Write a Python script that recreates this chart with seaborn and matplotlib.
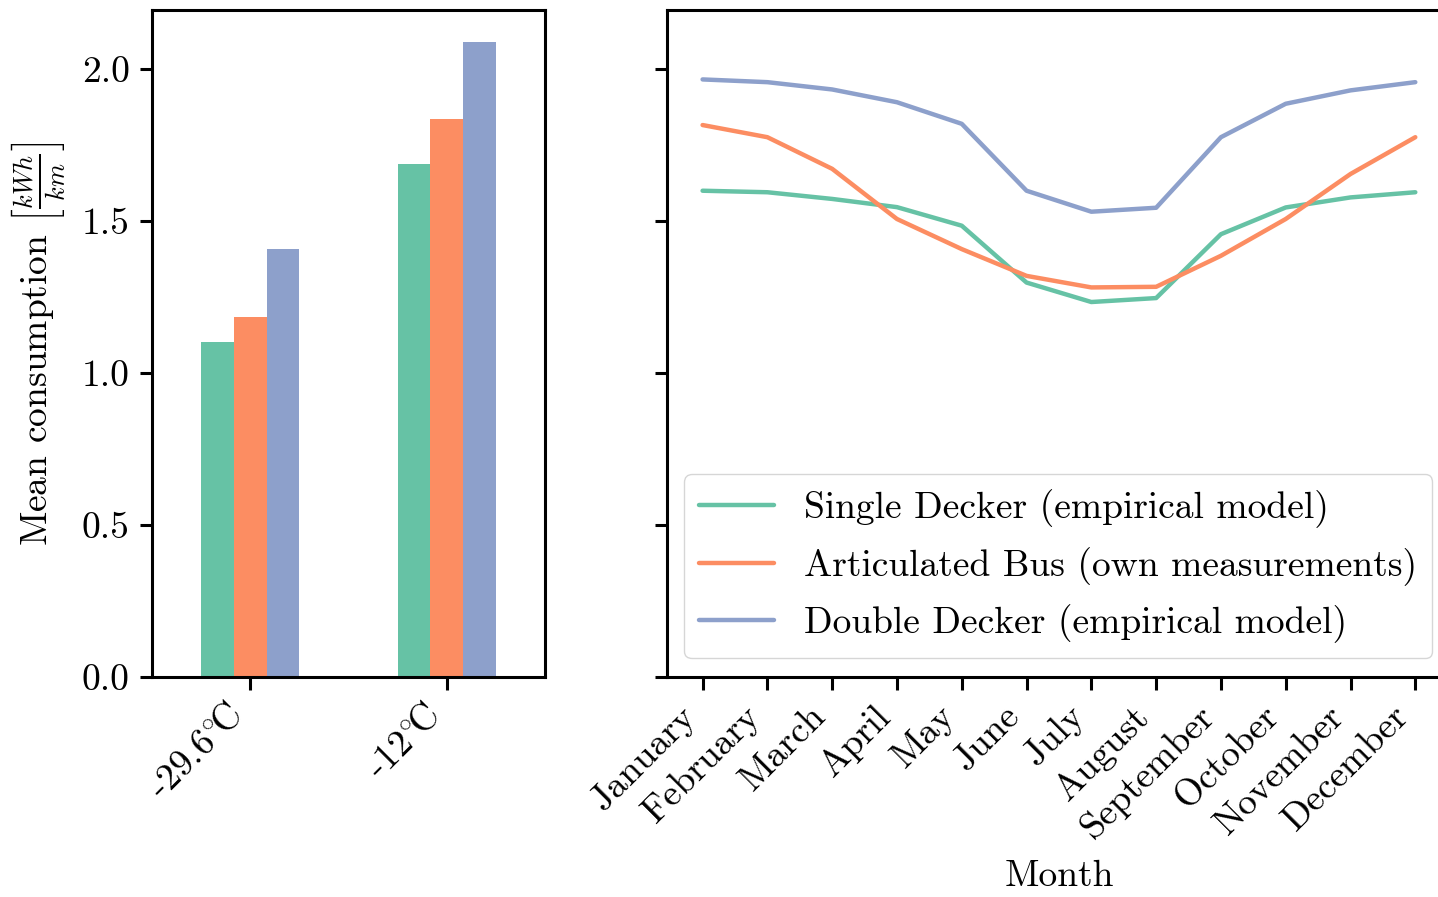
import numpy as np
import pandas as pd
import matplotlib
matplotlib.use("Agg")
import matplotlib.pyplot as plt
import seaborn as sns

# bus types (hue)
bus_types = ["Single Decker (empirical model)",
             "Articulated Bus (own measurements)",
             "Double Decker (empirical model)"]

# left panel: mean consumption at two temperatures
temps = [r"-29.6$^{\circ}\!$C", r"-12$^{\circ}\!$C"]
single_temp = [1.10, 1.687]
artic_temp = [1.183, 1.835]
double_temp = [1.407, 2.089]

# right panel: monthly mean consumption
months = ["January", "February", "March", "April", "May", "June", "July",
          "August", "September", "October", "November", "December"]
single_month = [1.599, 1.594, 1.572, 1.545, 1.484, 1.297, 1.233, 1.246, 1.456, 1.544, 1.577, 1.594]
artic_month = [1.815, 1.775, 1.671, 1.506, 1.407, 1.319, 1.281, 1.283, 1.385, 1.506, 1.654, 1.775]
double_month = [1.965, 1.956, 1.932, 1.890, 1.819, 1.599, 1.530, 1.543, 1.775, 1.885, 1.929, 1.956]

sns.set_theme(style="ticks")
plt.rcParams["font.family"] = ["cmr10", "DejaVu Serif"]
plt.rcParams["mathtext.fontset"] = "cm"
plt.rcParams["axes.formatter.use_mathtext"] = True
plt.rcParams.update({"font.size": 27, "axes.labelsize": 27, "xtick.labelsize": 27,
                     "ytick.labelsize": 27, "legend.fontsize": 27,
                     "axes.linewidth": 2.2, "xtick.major.width": 2.2, "ytick.major.width": 2.2,
                     "xtick.major.size": 9, "ytick.major.size": 9,
                     "xtick.major.pad": 7, "ytick.major.pad": 7,
                     "text.color": "black", "axes.labelcolor": "black",
                     "xtick.color": "black", "ytick.color": "black", "axes.edgecolor": "black"})

df_temp = pd.DataFrame({
    "temp": temps * 3,
    "type": [bus_types[0]] * 2 + [bus_types[1]] * 2 + [bus_types[2]] * 2,
    "value": single_temp + artic_temp + double_temp,
})
df_month = pd.DataFrame({
    "month": months * 3,
    "type": [bus_types[0]] * 12 + [bus_types[1]] * 12 + [bus_types[2]] * 12,
    "value": single_month + artic_month + double_month,
})

fig = plt.figure(figsize=(14.38, 8.97), dpi=100)
ax1 = fig.add_axes([0.1057, 0.2453, 0.2733, 0.7436])
ax2 = fig.add_axes([0.4638, 0.2453, 0.5452, 0.7436])
ax2.sharey(ax1)

sns.barplot(data=df_temp, x="temp", y="value", hue="type", palette="Set2",
            width=0.5, saturation=1, linewidth=0, ax=ax1, legend=False)
sns.lineplot(data=df_month, x="month", y="value", hue="type", palette="Set2",
             sort=False, lw=3.2, ax=ax2)

ax1.set_xlabel("")
ax1.set_ylabel(r"Mean consumption $\left[\frac{kWh}{km}\right]$", labelpad=10)
ax1.set_yticks([0.0, 0.5, 1.0, 1.5, 2.0])
ax1.set_yticklabels(["0.0", "0.5", "1.0", "1.5", "2.0"])
plt.setp(ax1.get_xticklabels(), rotation=45, ha="right")

ax2.set_xlabel("Month", labelpad=10)
ax2.set_ylabel("")
ax2.tick_params(labelleft=False)
plt.setp(ax2.get_xticklabels(), rotation=45, ha="right")
leg = ax2.legend(loc="lower right", title=None, handlelength=2.0)
for line in leg.get_lines():
    line.set_linewidth(3.2)

fig.savefig("out.png", dpi=100)
